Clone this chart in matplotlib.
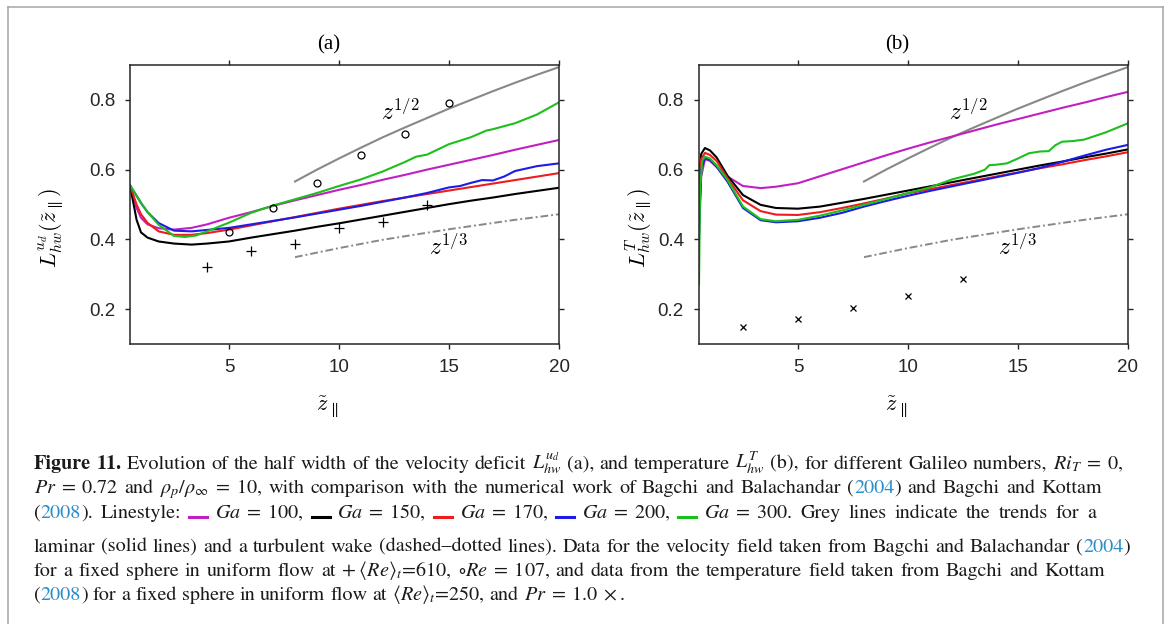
import matplotlib
matplotlib.use('Agg')
import matplotlib.pyplot as plt
from matplotlib.lines import Line2D

plt.rcParams['font.family'] = ['Liberation Sans', 'DejaVu Sans']
plt.rcParams['mathtext.fontset'] = 'cm'

# ---------------- data: panel (a), velocity deficit half width ----------------
xa = [0.5, 0.8, 1.0, 1.3, 1.8, 2.5, 3.3, 4.0, 5, 6, 7, 8, 9, 10, 11, 12, 13, 14, 15, 16, 17, 18, 19, 20]
a_ga100 = [0.555, 0.490, 0.462, 0.443, 0.432, 0.428, 0.433, 0.443, 0.462, 0.478, 0.496, 0.512, 0.527, 0.542,
           0.556, 0.571, 0.585, 0.600, 0.614, 0.628, 0.642, 0.657, 0.671, 0.685]
a_ga150 = [0.555, 0.456, 0.420, 0.405, 0.394, 0.388, 0.385, 0.388, 0.394, 0.405, 0.415, 0.425, 0.436, 0.446,
           0.457, 0.468, 0.479, 0.490, 0.501, 0.511, 0.520, 0.530, 0.539, 0.548]
a_ga170 = [0.555, 0.500, 0.472, 0.447, 0.423, 0.413, 0.413, 0.418, 0.428, 0.440, 0.452, 0.464, 0.476, 0.488,
           0.499, 0.510, 0.520, 0.530, 0.540, 0.550, 0.560, 0.570, 0.580, 0.590]
xa_200 = [0.5, 0.8, 1.0, 1.3, 1.8, 2.5, 3.3, 4.0, 5, 6, 7, 8, 9, 10, 11, 12, 13, 14, 15, 15.5, 16, 16.5, 17,
          17.5, 18, 19, 20]
a_ga200 = [0.555, 0.525, 0.504, 0.478, 0.447, 0.425, 0.423, 0.427, 0.433, 0.443, 0.453, 0.463, 0.474, 0.485,
           0.496, 0.508, 0.520, 0.533, 0.549, 0.553, 0.562, 0.570, 0.569, 0.580, 0.596, 0.610, 0.618]
xa_300 = [0.5, 0.8, 1.0, 1.3, 1.8, 2.5, 3.0, 3.5, 4.0, 5, 6, 7, 8, 9, 10, 11, 12, 13, 13.5, 14, 14.3, 15, 16,
          16.7, 17, 18, 19, 20]
a_ga300 = [0.555, 0.525, 0.505, 0.478, 0.442, 0.410, 0.407, 0.411, 0.423, 0.448, 0.476, 0.497, 0.515, 0.533,
           0.553, 0.572, 0.595, 0.622, 0.637, 0.643, 0.652, 0.673, 0.693, 0.712, 0.716, 0.733, 0.758, 0.793]

# Bagchi & Balachandar (2004)
plus_x = [4, 6, 8, 10, 12, 14]
plus_y = [0.321, 0.367, 0.387, 0.432, 0.449, 0.500]
circ_x = [5, 7, 9, 11, 13, 15]
circ_y = [0.420, 0.491, 0.562, 0.641, 0.703, 0.792]

# ---------------- data: panel (b), temperature half width ----------------
xb = [0.5, 0.6, 0.77, 1.0, 1.3, 1.8, 2.5, 3.3, 4.0, 5, 6, 7, 8, 9, 10, 11, 12, 13, 14, 15, 16, 17, 18, 19, 20]
b_ga100 = [0.45, 0.58, 0.630, 0.625, 0.608, 0.580, 0.553, 0.547, 0.551, 0.561, 0.581, 0.601, 0.621, 0.641,
           0.660, 0.678, 0.695, 0.712, 0.729, 0.745, 0.761, 0.777, 0.792, 0.808, 0.823]
b_ga150 = [0.58, 0.645, 0.662, 0.655, 0.635, 0.582, 0.527, 0.499, 0.490, 0.488, 0.494, 0.505, 0.516, 0.528,
           0.540, 0.552, 0.564, 0.576, 0.588, 0.600, 0.612, 0.623, 0.635, 0.646, 0.658]
b_ga170 = [0.56, 0.63, 0.648, 0.642, 0.625, 0.575, 0.512, 0.481, 0.471, 0.470, 0.478, 0.490, 0.503, 0.517,
           0.532, 0.544, 0.556, 0.568, 0.580, 0.592, 0.604, 0.615, 0.627, 0.638, 0.650]
b_ga200 = [0.40, 0.60, 0.633, 0.628, 0.608, 0.565, 0.490, 0.455, 0.449, 0.452, 0.462, 0.476, 0.494, 0.510,
           0.525, 0.539, 0.552, 0.565, 0.578, 0.591, 0.605, 0.622, 0.640, 0.657, 0.671]
xb_300 = [0.5, 0.55, 0.65, 0.77, 1.0, 1.3, 1.8, 2.5, 3.3, 4.0, 5, 6, 7, 8, 9, 10, 11, 12, 12.5, 13, 13.5, 13.7,
          14, 14.5, 15, 15.5, 16, 16.4, 16.7, 17, 17.5, 18, 19, 20]
b_ga300 = [0.27, 0.55, 0.625, 0.637, 0.632, 0.612, 0.570, 0.494, 0.458, 0.452, 0.456, 0.468, 0.483, 0.499,
           0.516, 0.533, 0.549, 0.572, 0.580, 0.588, 0.600, 0.613, 0.614, 0.618, 0.632, 0.647, 0.652, 0.653,
           0.670, 0.680, 0.682, 0.686, 0.707, 0.733]

# Bagchi & Kottam (2008)
cross_x = [2.5, 5, 7.5, 10, 12.5]
cross_y = [0.149, 0.173, 0.203, 0.237, 0.286]

# grey trend lines (same in both panels)
trend_x = [8, 9, 10, 11, 12, 13, 14, 15, 16, 17, 18, 19, 20]
laminar = [0.566, 0.600, 0.632, 0.663, 0.693, 0.721, 0.748, 0.775, 0.800, 0.825, 0.849, 0.872, 0.894]
turbulent = [0.349, 0.362, 0.375, 0.387, 0.399, 0.409, 0.419, 0.429, 0.438, 0.447, 0.456, 0.464, 0.472]

ga_labels = ['100', '150', '170', '200', '300']
ga_colors = ['#c21fc2', '#000000', '#ee1c1c', '#1c1ce6', '#1cbf1c']
FRAME = '#262626'
GREY = '#888888'
BLUE = '#2a8cc8'

W, H = 1170.0, 624.0
fig = plt.figure(figsize=(11.7, 6.24), dpi=100)
ax_a = fig.add_axes([130 / W, 1 - 344 / H, 429 / W, 279 / H])
ax_b = fig.add_axes([699 / W, 1 - 344 / H, 429 / W, 279 / H])


def style_axes(ax):
    ax.set_xlim(0.5, 20)
    ax.set_ylim(0.1, 0.9)
    ax.set_xticks([5, 10, 15, 20])
    ax.set_yticks([0.2, 0.4, 0.6, 0.8])
    ax.set_yticklabels(['0.2', '0.4', '0.6', '0.8'])
    ax.tick_params(direction='out', length=3.3, width=1.0, color=FRAME, labelsize=13.5,
                   labelcolor=FRAME, pad=7.5, top=True, right=True)
    for s in ax.spines.values():
        s.set_linewidth(1.1)
        s.set_color(FRAME)


def trends(ax, x12, x13):
    ax.plot(trend_x, laminar, color=GREY, lw=1.5)
    ax.plot(trend_x, turbulent, color=GREY, lw=1.4, linestyle=(0, (4, 1.5, 1, 1.5)))
    ax.text(x12, 0.765, r'$z^{1/2}$', fontsize=17, ha='center', va='center')
    ax.text(x13, 0.380, r'$z^{1/3}$', fontsize=17, ha='center', va='center')


# ---- panel (a) ----
trends(ax_a, 12.77, 14.95)
for xs, ys, c in zip([xa, xa, xa, xa_200, xa_300], [a_ga100, a_ga150, a_ga170, a_ga200, a_ga300], ga_colors):
    ax_a.plot(xs, ys, color=c, lw=1.5)
ax_a.plot(plus_x, plus_y, '+', color='k', ms=7, mew=0.9)
ax_a.plot(circ_x, circ_y, 'o', mfc='none', mec='k', ms=5, mew=0.9)
style_axes(ax_a)
ax_a.text(0.464, 1.072, '(a)', transform=ax_a.transAxes, ha='center', va='center',
          fontsize=15, family='Liberation Serif')
ax_a.text(-0.186, 0.416, r'$L^{u_d}_{hw}(\tilde{z}_{\parallel})$', transform=ax_a.transAxes,
          rotation=90, ha='center', va='center', fontsize=16)
ax_a.text(0.46, -0.226, r'$\tilde{z}_{\parallel}$', transform=ax_a.transAxes, ha='center', va='center',
          fontsize=16)

# ---- panel (b) ----
trends(ax_b, 12.73, 14.95)
for xs, ys, c in zip([xb, xb, xb, xb, xb_300], [b_ga100, b_ga150, b_ga170, b_ga200, b_ga300], ga_colors):
    ax_b.plot(xs, ys, color=c, lw=1.5)
ax_b.plot(cross_x, cross_y, 'x', color='k', ms=5, mew=0.9)
style_axes(ax_b)
ax_b.text(0.462, 1.072, '(b)', transform=ax_b.transAxes, ha='center', va='center',
          fontsize=15, family='Liberation Serif')
ax_b.text(-0.142, 0.416, r'$L^{T}_{hw}(\tilde{z}_{\parallel})$', transform=ax_b.transAxes,
          rotation=90, ha='center', va='center', fontsize=16)
ax_b.text(0.46, -0.226, r'$\tilde{z}_{\parallel}$', transform=ax_b.transAxes, ha='center', va='center',
          fontsize=16)

# ---- caption box ----
for xs, ys in [([8, 8], [7, 640]), ([8, 1163], [7, 7]), ([1163, 1163], [7, 640])]:
    fig.add_artist(Line2D([x / W for x in xs], [1 - y / H for y in ys], color='#a6a6a6', lw=1.1))

cap_lines = [
    r"**Figure **11. Evolution of the half width of the velocity deficit $L^{u_d}_{hw}$ (a), and temperature "
    r"$L^{T}_{hw}$ (b), for different Galileo numbers, $Ri_T\;=\;0$,",
    r"$Pr\;=\;0.72$ and $\rho_p/\rho_\infty\;=\;10$, with comparison with the numerical work of Bagchi and "
    r"Balachandar (@2004@) and Bagchi and Kottam",
    r"(@2008@). Linestyle: [0] $Ga\;=\;100$, [1] $Ga\;=\;150$, [2] $Ga\;=\;170$, [3] $Ga\;=\;200$, "
    r"[4] $Ga\;=\;300$. Grey lines indicate the trends for a",
    r"laminar (solid lines) and a turbulent wake (dashed–dotted lines). Data for the velocity field taken "
    r"from Bagchi and Balachandar (@2004@)",
    r"for a fixed sphere in uniform flow at $+\;\langle{}Re\rangle_t$=610, $\circ{}Re\;=\;107$, and data from the "
    r"temperature field taken from Bagchi and Kottam",
    r"(@2008@) for a fixed sphere in uniform flow at $\langle{}Re\rangle_t$=250, and $Pr\;=\;1.0\;\times$.",
]
cap_base = [469, 493, 518, 552, 576, 600]
cap_right = [1123, 1102, 1096, 1130, 1105, None]


def caption_line(line, base_y, right, x0=34, size=14.5):
    r = fig.canvas.get_renderer()
    groups = []
    for tok in line.split(' '):
        pieces = []
        if tok.startswith('[') and tok.endswith(']'):
            pieces.append(('swatch', ga_colors[int(tok[1:-1])], 18.0))
        else:
            weight = 'normal'
            if tok.startswith('**'):
                tok, weight = tok[2:], 'bold'
            for k, part in enumerate(tok.split('@')):
                if not part:
                    continue
                t = fig.text(0, 0, part, fontsize=size, family='STIXGeneral', weight=weight,
                             math_fontfamily='stix', color=BLUE if k % 2 else '#1a1a1a',
                             ha='left', va='baseline')
                pieces.append(('text', t, t.get_window_extent(r).width))
        groups.append(pieces)
    widths = [sum(p[2] for p in g) for g in groups]
    space = 0.25 * size * 100 / 72
    if right is not None:
        space = max(2.0, (right - x0 - sum(widths)) / (len(groups) - 1))
    x = x0
    for g in groups:
        for kind, obj, pw in g:
            if kind == 'swatch':
                fig.add_artist(Line2D([x / W, (x + pw) / W], [1 - (base_y - 1) / H] * 2, color=obj, lw=2.2))
            else:
                obj.set_position((x / W, 1 - base_y / H))
            x += pw
        x += space


for line, by, rx in zip(cap_lines, cap_base, cap_right):
    caption_line(line, by, rx)

fig.savefig('out.png', dpi=100)
